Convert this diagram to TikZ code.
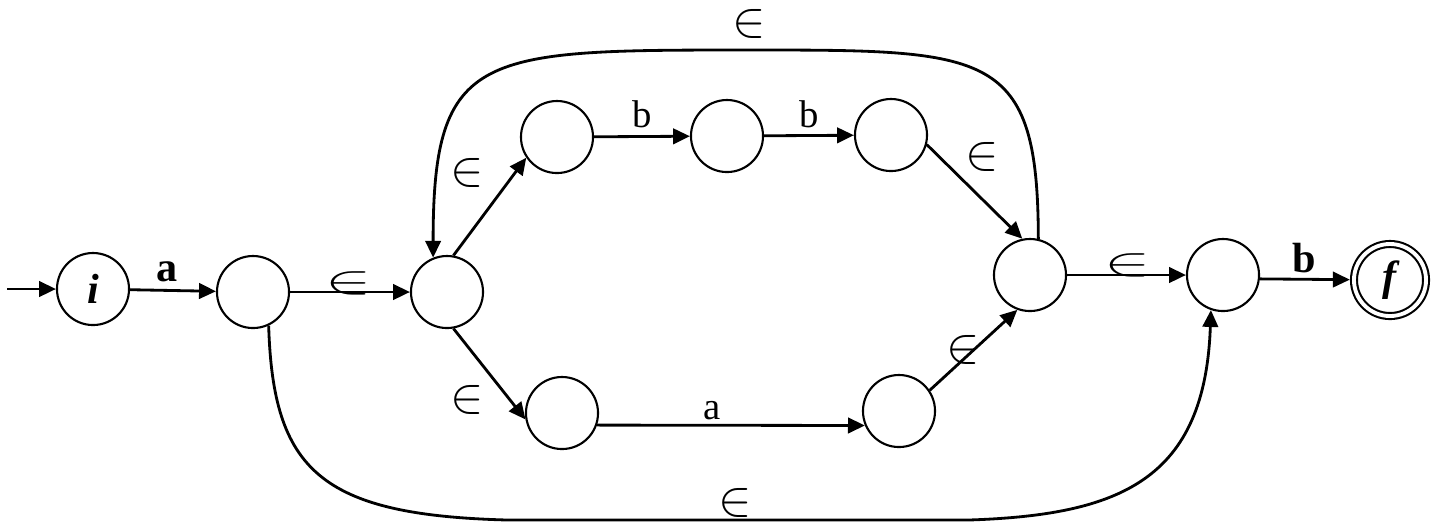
\documentclass[tikz,border=0pt]{standalone}
\usepackage{fontspec}
\setmainfont{Liberation Serif}
\usepackage{graphicx}
\usetikzlibrary{arrows.meta}
\tikzset{
  state/.style={circle, draw, line width=0.6pt, minimum size=7.2mm, inner sep=0pt, font=\fontsize{12}{14}\selectfont\bfseries\itshape},
  accept/.style={state, double, double distance=1.1pt, outer sep=1.2pt},
  arr/.style={-{Triangle[length=4.8pt, width=4.4pt]}, line width=0.8pt},
  lbl/.style={inner sep=0pt, font=\fontsize{11}{13}\selectfont},
  blbl/.style={inner sep=0pt, font=\fontsize{12}{14}\selectfont\bfseries},
}
\newcommand{\eps}{\scalebox{1.3}{$\in$}}
\newcommand{\weps}{\scalebox{1.8}[1.05]{$\in$}}

\begin{document}
\begin{tikzpicture}[x=0.01cm, y=-0.01cm]
  \useasboundingbox (0,0) rectangle (1442,523);
  % states
  \node[state] (qi) at (93,289) {i};
  \node[state] (q1) at (253,292) {};
  \node[state] (q2) at (447,292) {};
  \node[state] (q3) at (557,137) {};
  \node[state] (q4) at (727,136) {};
  \node[state] (q5) at (891,135) {};
  \node[state] (q6) at (1030,275) {};
  \node[state] (q7) at (562,413) {};
  \node[state] (q8) at (899,411) {};
  \node[state] (q9) at (1223,275) {};
  \node[accept] (qf) at (1390,280) {f};
  \coordinate (start) at (7,289);

  % transitions
  \draw[arr] (start) -- (qi);
  \draw[arr] (qi) -- (q1);
  \draw[arr] (q1) -- (q2);
  \draw[arr] (q2.80) -- (q3.214);
  \draw[arr] (q3) -- (q4);
  \draw[arr] (q4) -- (q5);
  \draw[arr] (q5.-15) -- (q6.102);
  \draw[arr] (q2.-80) -- (q7.190);
  \draw[arr] (q7.-19) -- (q8.-157);
  \draw[arr] (q8.34) -- (q6.250);
  \draw[arr] (q6) -- (q9);
  \draw[arr] (q9.-6) -- (qf);
  \draw[arr] (q6.77) .. controls (1038,50) and (990,50) .. (750,50)
    .. controls (480,50) and (433,50) .. (q2.112);
  \draw[arr] (q1.-65) .. controls (273,470) and (320,515) .. (507,520) -- (969,520)
    .. controls (1120,515) and (1205,480) .. (q9.-109);

  % labels
  \node[blbl] (la) at (167,272) {a};
  \node[lbl] (e1) at (349,283) {\weps};
  \node[lbl] (e2) at (467,173) {\eps};
  \node[lbl] (etop) at (749,24) {\eps};
  \node[lbl] (lb1) at (642,114) {b};
  \node[lbl] (lb2) at (809,114) {b};
  \node[lbl] (e3) at (982,157) {\eps};
  \node[lbl] (e4) at (467,400) {\eps};
  \node[lbl] (la2) at (712,411) {a};
  \node[lbl] (e5) at (963,350) {\eps};
  \node[lbl] (ebot) at (735,503) {\eps};
  \node[lbl] (e6) at (1128,265) {\weps};
  \node[blbl] (lb3) at (1304,258) {b};
\end{tikzpicture}
\end{document}
